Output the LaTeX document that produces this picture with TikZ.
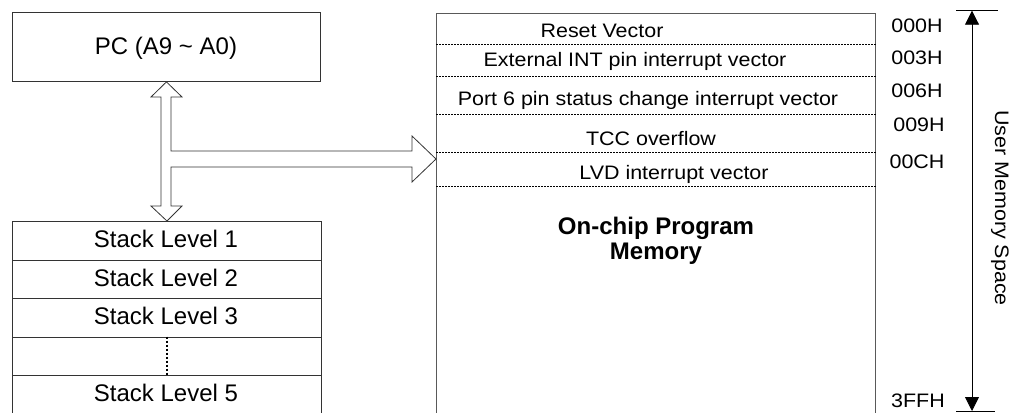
\documentclass[tikz,border=0pt]{standalone}
\usepackage{fontspec}
\setmainfont{Liberation Sans}
\newfontfamily\rfont[FakeStretch=1.1]{Liberation Sans}
\usetikzlibrary{arrows.meta}
\begin{document}
\begin{tikzpicture}[x=1pt,y=-1pt,
  box/.style={draw=black!80,line width=0.9pt,inner sep=0pt,anchor=north west},
  lbl/.style={inner sep=0pt,anchor=base,font=\fontsize{24}{26}\selectfont},
  rlbl/.style={inner sep=0pt,anchor=base,font=\rfont\fontsize{19.5}{22}\selectfont},
  sep/.style={line width=0.8pt,dash pattern=on 2pt off 1pt},
  fat/.style={draw=black!80,line width=0.8pt,fill=white,line join=miter}]
\path[use as bounding box] (0,0) rectangle (1019,412);

% PC box
\node[box,minimum width=308pt,minimum height=69pt] (pc) at (12,12) {};
\node[lbl] (pct) at (166,55) {PC (A9 \textasciitilde\ A0)};

% stack
\foreach \i in {0,...,4}{
  \node[box,minimum width=309pt,minimum height=38.5pt] (s\i) at (12,221+38.5*\i) {};
}
\node[lbl] (st1) at (166,247.5) {Stack Level 1};
\node[lbl] (st2) at (166,286) {Stack Level 2};
\node[lbl] (st3) at (166,324.5) {Stack Level 3};
\node[lbl] (st5) at (166,401.5) {Stack Level 5};
\draw[line width=1.6pt,dash pattern=on 2.5pt off 1.5pt] (s3.north) -- (s3.south);

% memory box
\node[box,draw=black!65,line width=1pt,minimum width=439pt,minimum height=415pt] (mem) at (436,12.7) {};
\foreach \y in {44,76,114,152,186}{
  \draw[sep] (mem.west |- 0,\y) -- (mem.east |- 0,\y);
}
\node[rlbl] (v0) at (602,37.5) {Reset Vector};
\node[rlbl] (v1) at (635,66.5) {External INT pin interrupt vector};
\node[rlbl] (v2) at (648,105) {Port 6 pin status change interrupt vector};
\node[rlbl] (v3) at (651,145) {TCC overflow};
\node[rlbl] (v4) at (674,179) {LVD interrupt vector};
\node[inner sep=0pt,align=center,font=\bfseries\fontsize{24}{25}\selectfont] (onchip) at (656,241) {On-chip Program\\Memory};

% fat arrows
\draw[fat] (pc.south) -- (182,97) -- (171,97) -- (171,151) -- (412,151) -- (412,136)
  -- (mem.west |- 0,159) -- (412,182) -- (412,167) -- (171,167) -- (171,206) -- (182,206)
  -- (s0.north) -- (151,206) -- (161,206) -- (161,97) -- (151,97) -- cycle;

% addresses
\node[rlbl] (a0) at (917,33) {000H};
\node[rlbl] (a1) at (917,64) {003H};
\node[rlbl] (a2) at (917,97) {006H};
\node[rlbl] (a3) at (919,131) {009H};
\node[rlbl] (a4) at (917,168) {00CH};
\node[rlbl] (a5) at (918,407.5) {3FFH};

% user memory space arrow
\coordinate (ut) at (972,10.7);
\coordinate (ub) at (972,411);
\draw[line width=0.8pt] (956,10.7) -- (998,10.7);
\draw[line width=0.8pt] (956,411) -- (995,411);
\draw[line width=0.8pt,{Triangle[width=14pt,length=14pt]}-{Triangle[width=14pt,length=14pt]}] (ut) -- (ub);
\node[inner sep=0pt,rotate=-90,font=\rfont\fontsize{19.5}{22}\selectfont] (ums) at (1000,208) {User Memory Space};
\end{tikzpicture}
\end{document}
